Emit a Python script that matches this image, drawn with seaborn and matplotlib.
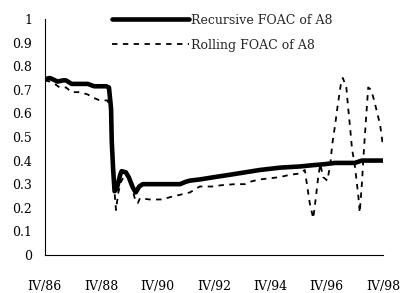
import matplotlib
matplotlib.use('Agg')
import matplotlib.pyplot as plt
import pandas as pd
import seaborn as sns

# quarters since IV/86
rec_q = [0, 0.7, 1.1, 1.8, 2.6, 3.0, 3.8, 6.1, 7.0, 8.7, 9.1, 9.4, 9.5, 9.7, 9.9,
         10.2, 10.7, 10.9, 11.5, 11.9, 12.5, 12.9, 13.4, 13.9, 19.2, 20.0, 20.6,
         22.0, 24.1, 26.3, 28.4, 30.5, 33.4, 36.2, 37.9, 39.8, 41.2, 44.0, 45.0, 48.0]
rec_v = [0.745, 0.75, 0.745, 0.735, 0.74, 0.74, 0.725, 0.725, 0.715, 0.715, 0.71,
         0.62, 0.48, 0.36, 0.27, 0.28, 0.34, 0.355, 0.35, 0.33, 0.285, 0.265, 0.29,
         0.3, 0.3, 0.31, 0.315, 0.32, 0.33, 0.34, 0.35, 0.36, 0.37, 0.375, 0.38,
         0.385, 0.39, 0.39, 0.4, 0.4]

rol_q = [0, 0.7, 1.4, 2.1, 3.0, 3.8, 5.0, 6.1, 7.0, 7.8, 8.9, 9.4, 9.8, 10.1, 10.4,
         10.8, 11.2, 11.6, 12.1, 12.5, 12.9, 13.2, 13.5, 14.9, 16.6, 17.8, 19.2,
         20.6, 21.4, 22.0, 24.1, 24.9, 27.0, 28.4, 29.1, 30.5, 32.0, 33.4, 34.8,
         36.2, 36.9, 37.2, 37.6, 38.1, 38.5, 38.8, 39.1, 39.5, 40.1, 40.5, 40.8,
         41.2, 41.6, 42.0, 42.3, 42.8, 43.0, 43.3, 43.6, 44.0, 44.5, 44.7, 45.0,
         45.3, 45.6, 45.9, 46.3, 46.7, 47.2, 47.6, 48.0]
rol_v = [0.74, 0.735, 0.725, 0.71, 0.71, 0.69, 0.69, 0.68, 0.665, 0.655, 0.655, 0.6,
         0.3, 0.19, 0.26, 0.31, 0.33, 0.345, 0.32, 0.27, 0.225, 0.22, 0.24, 0.235,
         0.235, 0.245, 0.255, 0.265, 0.28, 0.29, 0.29, 0.295, 0.3, 0.3, 0.31, 0.32,
         0.325, 0.33, 0.34, 0.345, 0.36, 0.3, 0.22, 0.155, 0.25, 0.33, 0.385, 0.33,
         0.315, 0.38, 0.47, 0.55, 0.64, 0.72, 0.75, 0.71, 0.64, 0.55, 0.45, 0.38,
         0.25, 0.18, 0.3, 0.45, 0.58, 0.71, 0.7, 0.66, 0.6, 0.55, 0.46]

tick_labels = ['IV/86', 'IV/88', 'IV/90', 'IV/92', 'IV/94', 'IV/96', 'IV/98']

df_rec = pd.DataFrame({'q': rec_q, 'v': rec_v})
df_rol = pd.DataFrame({'q': rol_q, 'v': rol_v})

sns.set_style('white')
plt.rcParams['font.family'] = ['DejaVu Serif']

fig = plt.figure(figsize=(4.04, 2.93), dpi=100)
ax = fig.add_axes([0.111, 0.130, 0.837, 0.805])

sns.lineplot(data=df_rec, x='q', y='v', sort=False, color='black', linewidth=3.3,
             label='Recursive FOAC of A8', ax=ax)
sns.lineplot(data=df_rol, x='q', y='v', sort=False, color='black', linewidth=1.3,
             label='Rolling FOAC of A8', ax=ax)
ax.lines[1].set_dashes([3, 3])

ax.set_xlim(0, 48)
ax.set_ylim(0, 1)
ax.set_xticks(range(0, 49, 8))
ax.set_xticklabels(tick_labels)
ax.set_yticks([i / 10 for i in range(11)])
ax.set_yticklabels(['0', '0.1', '0.2', '0.3', '0.4', '0.5', '0.6', '0.7', '0.8', '0.9', '1'])
ax.set_xlabel('')
ax.set_ylabel('')
ax.tick_params(direction='inout', length=6, width=0.8, labelsize=9, colors='black', pad=6)
ax.tick_params(axis='x', pad=15)
for s in ['top', 'right']:
    ax.spines[s].set_visible(False)
for s in ['left', 'bottom']:
    ax.spines[s].set_color('black')
    ax.spines[s].set_linewidth(0.8)

leg = ax.legend(loc='upper left', bbox_to_anchor=(0.198, 1.022), frameon=False, fontsize=9,
                handlelength=6.2, handletextpad=0.15, labelspacing=0.95,
                borderaxespad=0, borderpad=0)
leg.get_lines()[1].set_dashes([3, 3])

fig.savefig('out.png', dpi=100, facecolor='white')
